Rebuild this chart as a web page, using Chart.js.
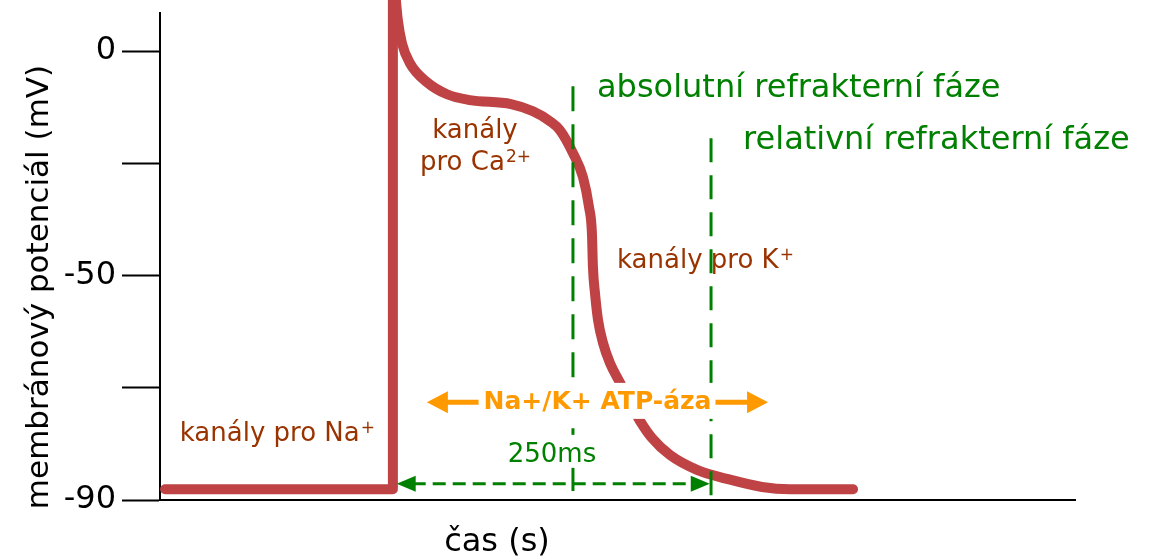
<!DOCTYPE html>
<html>
<head>
<meta charset="utf-8">
<script src="https://cdn.jsdelivr.net/npm/chart.js@4.4.0/dist/chart.umd.min.js"></script>
<style>
    body { margin: 0; background: #fff; }
</style>
</head>
<body>
<canvas id="graf" width="1149" height="558"></canvas>
<script>
"use strict"

// klidovy potencial + depolarizace (cas v ms, napeti v mV)
const restTime = [-179, 0, 0];
const restVolt = [-97.6, -97.6, 12.5];

// plato a repolarizace
const repolTime = [2, 3.9, 7.1, 13.4, 26.7, 42.5, 60.5, 92.8, 110.1, 123.4, 131.3, 141.5, 149.4, 154.1, 156.4,
    157.2, 158.8, 161.2, 165.1, 170.6, 178.5, 186.3, 194.2, 203.6, 217.8, 239.0, 262.6, 290.1, 312.1, 361.6];
const repolVolt = [12.5, 6.9, 1.8, -2.7, -6.9, -9.6, -10.9, -11.8, -13.4, -15.6, -17.6, -22.7, -28.1, -34.7, -40.5,
    -48.1, -53.9, -59.9, -65.0, -69.5, -73.9, -78.4, -82.4, -86.2, -90.0, -93.3, -95.3, -97.1, -97.6, -97.6];

// refrakterni faze
const absRefTime = 141.5;
const absRefVolt = [-7.8, -98];
const relRefTime = 250;
const relRefVolt = [-19.4, -100];

// osa y
const tickValues = [0, -25, -50, -75, -100];
const tickLabels = ["0", "", "-50", "", "-90"];

const FONT = "'DejaVu Sans'";
const RED = "#bf4345";
const GREEN = "#008000";
const BROWN = "#993300";
const ORANGE = "#ff9900";

Chart.defaults.font.family = FONT;

function toPoints(xs, ys) {
    return xs.map((v, i) => ({ x: v, y: ys[i] }));
}

// text s hornim indexem (Na+, Ca2+ ...)
function textSup(ctx, base, sup, px, py, size, align) {
    const supSize = Math.round(size * 0.64);
    ctx.font = size + "px " + FONT;
    const wb = ctx.measureText(base).width;
    ctx.font = supSize + "px " + FONT;
    const ws = ctx.measureText(sup).width;
    let start = px;
    if (align === "center") start = px - (wb + ws) / 2;
    ctx.textAlign = "left";
    ctx.font = size + "px " + FONT;
    ctx.fillText(base, start, py);
    ctx.font = supSize + "px " + FONT;
    ctx.fillText(sup, start + wb + 1, py - size * 0.3);
}

function arrowHead(ctx, tipX, tipY, dir, len, half) {
    ctx.beginPath();
    ctx.moveTo(tipX, tipY);
    ctx.lineTo(tipX - dir * len, tipY - half);
    ctx.lineTo(tipX - dir * len, tipY + half);
    ctx.closePath();
    ctx.fill();
}

const popisky = {
    id: "popisky",
    afterDatasetsDraw(chart) {
        const { ctx, scales: { x, y } } = chart;
        ctx.save();
        ctx.textBaseline = "alphabetic";

        // sipka 250 ms
        const ay = y.getPixelForValue(-96.4);
        const a1 = x.getPixelForValue(3);
        const a2 = x.getPixelForValue(249);
        ctx.strokeStyle = GREEN;
        ctx.fillStyle = GREEN;
        ctx.lineWidth = 3;
        ctx.setLineDash([13, 7]);
        ctx.beginPath();
        ctx.moveTo(a1 + 16, ay);
        ctx.lineTo(a2 - 16, ay);
        ctx.stroke();
        ctx.setLineDash([]);
        arrowHead(ctx, a1, ay, -1, 19, 8);
        arrowHead(ctx, a2, ay, 1, 19, 8);

        // Na+/K+ ATP-aza
        ctx.font = "bold 25px " + FONT;
        const label = "Na+/K+ ATP-áza";
        const tw = ctx.measureText(label).width;
        const cx = x.getPixelForValue(160.8);
        const by = y.getPixelForValue(-79.7);
        const oy = y.getPixelForValue(-78.2);
        ctx.fillStyle = "#fff";
        ctx.fillRect(cx - tw / 2 - 4, by - 26, tw + 6, 36);
        const w250 = 92;
        const c250 = x.getPixelForValue(125);
        const b250 = y.getPixelForValue(-91.5);
        ctx.fillRect(c250 - w250 / 2 - 3, b250 - 27, w250 + 6, 33);

        ctx.fillStyle = ORANGE;
        ctx.strokeStyle = ORANGE;
        ctx.lineWidth = 5;
        const l1 = x.getPixelForValue(26.7);
        const l2 = x.getPixelForValue(294.8);
        ctx.beginPath();
        ctx.moveTo(l1 + 15, oy);
        ctx.lineTo(cx - tw / 2 - 5, oy);
        ctx.moveTo(cx + tw / 2 + 4, oy);
        ctx.lineTo(l2 - 15, oy);
        ctx.stroke();
        arrowHead(ctx, l1, oy, -1, 21, 11);
        arrowHead(ctx, l2, oy, 1, 21, 11);
        ctx.textAlign = "center";
        ctx.fillText(label, cx, by);

        ctx.fillStyle = GREEN;
        ctx.font = "26px " + FONT;
        ctx.fillText("250ms", c250, b250);

        // faze
        ctx.textAlign = "left";
        ctx.font = "32px " + FONT;
        ctx.fillText("absolutní refrakterní fáze", x.getPixelForValue(160.4), y.getPixelForValue(-10.2));
        ctx.fillText("relativní refrakterní fáze", x.getPixelForValue(275.2), y.getPixelForValue(-21.8));

        // kanaly
        ctx.fillStyle = BROWN;
        ctx.font = "26px " + FONT;
        ctx.textAlign = "center";
        ctx.fillText("kanály", x.getPixelForValue(64.5), y.getPixelForValue(-19.4));
        textSup(ctx, "pro Ca", "2+", x.getPixelForValue(64.5), y.getPixelForValue(-26.5), 26, "center");
        textSup(ctx, "kanály pro K", "+", x.getPixelForValue(176.1), y.getPixelForValue(-48.3), 26, "left");
        textSup(ctx, "kanály pro Na", "+", x.getPixelForValue(-167.5), y.getPixelForValue(-86.9), 26, "left");

        // popisky os
        ctx.fillStyle = "#000";
        ctx.font = "32px " + FONT;
        ctx.textAlign = "center";
        ctx.fillText("čas (s)", 497, 551);
        ctx.translate(48, 287);
        ctx.rotate(-Math.PI / 2);
        ctx.font = "31px " + FONT;
        ctx.fillText("membránový potenciál (mV)", 0, 0);
        ctx.restore();
    }
};

const ctx = document.getElementById("graf").getContext("2d");

const data = {
    datasets: [
        {
            data: toPoints([absRefTime, absRefTime], absRefVolt),
            borderColor: GREEN, borderWidth: 3, borderDash: [25, 13],
            pointRadius: 0, order: 0, clip: false
        },
        {
            data: toPoints([relRefTime, relRefTime], relRefVolt),
            borderColor: GREEN, borderWidth: 3, borderDash: [24, 13],
            pointRadius: 0, order: 0, clip: false
        },
        {
            data: toPoints(restTime, restVolt),
            borderColor: RED, borderWidth: 10, borderCapStyle: "round", borderJoinStyle: "round",
            pointRadius: 0, tension: 0, order: 1, clip: false
        },
        {
            data: toPoints(repolTime, repolVolt),
            borderColor: RED, borderWidth: 10, borderCapStyle: "round", borderJoinStyle: "round",
            pointRadius: 0, cubicInterpolationMode: "monotone", order: 1, clip: false
        }
    ]
};

const config = {
    type: "line",
    data: data,
    options: {
        responsive: false,
        animation: false,
        layout: { padding: { top: 13, right: 74, left: 0, bottom: 0 } },
        plugins: { legend: { display: false }, tooltip: { enabled: false } },
        scales: {
            x: {
                type: "linear", min: -183, max: 536,
                grid: { display: false },
                ticks: { display: false },
                border: { display: true, color: "#000", width: 2 },
                afterFit: function (scale) {
                    scale.height = 58;
                    scale.paddingLeft = 0;
                    scale.paddingRight = 0;
                }
            },
            y: {
                type: "linear", min: -100, max: 8.5,
                afterBuildTicks: function (scale) {
                    scale.ticks = tickValues.map(v => ({ value: v }));
                },
                ticks: {
                    autoSkip: false,
                    padding: 6,
                    color: "#000",
                    font: { size: 32 },
                    callback: function (value, index) { return tickLabels[index]; }
                },
                grid: { drawOnChartArea: false, tickLength: 38, color: "#000", tickWidth: 2 },
                border: { display: true, color: "#000", width: 2 },
                afterFit: function (scale) {
                    scale.width = 160;
                    scale.paddingTop = 0;
                    scale.paddingBottom = 0;
                }
            }
        }
    },
    plugins: [popisky]
};

const graf = new Chart(ctx, config);
</script>
</body>
</html>
